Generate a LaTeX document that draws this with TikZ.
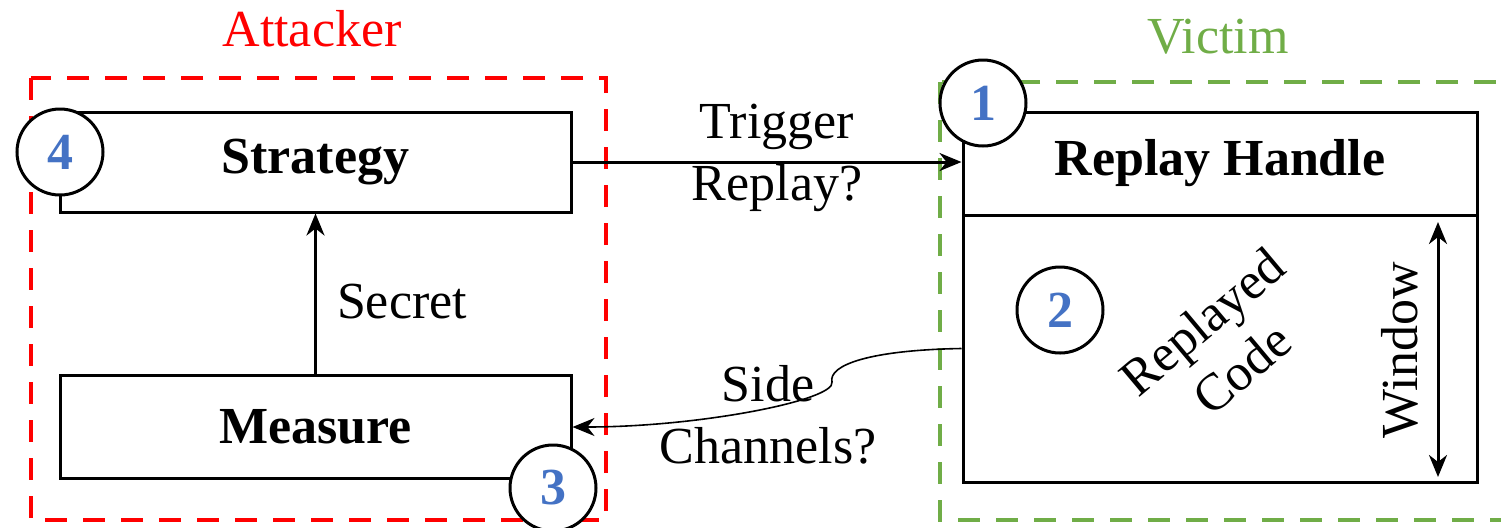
\documentclass[tikz,border=0pt]{standalone}
\usepackage{fontspec}
\setmainfont{Liberation Serif}
\usetikzlibrary{arrows.meta}
\definecolor{atkred}{RGB}{255,0,0}
\definecolor{vicgreen}{RGB}{112,173,71}
\definecolor{numblue}{RGB}{68,114,196}
\begin{document}
\begin{tikzpicture}[x=0.5pt,y=-0.5pt,
every node/.style={font=\fontsize{26}{31}\selectfont},
box/.style={draw,line width=1.5pt,fill=white,minimum width=255.5pt,inner sep=0pt,font=\fontsize{26}{31}\selectfont\bfseries},
num/.style={draw,circle,line width=1.5pt,fill=white,minimum size=43pt,inner sep=0pt,text=numblue,font=\fontsize{26}{31}\selectfont\bfseries},
input/.style={align=center,inner sep=0pt},
frm/.style={line width=2pt,dash pattern=on 11pt off 8pt},
arw/.style={-{Stealth[length=11pt,width=9pt,inset=3.5pt]},line width=1.5pt},
arrw/.style={{Stealth[length=11pt,width=9pt,inset=3.5pt]}-{Stealth[length=11pt,width=9pt,inset=3.5pt]},line width=1.5pt}
]
\useasboundingbox (0,0) rectangle (1501,527);
% groups
\draw[frm,atkred](31,78) rectangle (606,520);
\draw[frm,vicgreen](940,82) rectangle (1540,520);
\node[input,text=atkred,anchor=base]at(312,46)(atk){Attacker};
\node[input,text=vicgreen,anchor=base]at(1218,53)(vic){Victim};
% attacker side
\node[box,minimum height=50pt]at(315.5,162)(strat){Strategy};
\node[box,minimum height=51.5pt]at(315.5,427)(meas){Measure};
% victim side
\node[box,minimum width=257pt,minimum height=51.5pt]at(1220,163.5)(rh){Replay Handle};
\node[box,minimum width=257pt,minimum height=133.5pt]at(1220,348.5)(rc){};
\node[input,rotate=40]at(1222,345)(code){Replayed\\Code};
\node[input,rotate=90]at(1400,350)(win){Window};
\coordinate(wt)at(1438,222);
\coordinate(wb)at(1438,477);
\draw[arrw](wt)--(wb);
% connectors
\draw[arw](strat.east)--(strat.east-|rh.west);
\draw[arw](meas)--(strat);
\draw[arw,line width=0.8pt](rc.west) .. controls (870,350) and (828,365) .. (832,382) .. controls (836,400) and (700,427) .. (meas.east);
\node[input]at(777,158)(trg){Trigger\\Replay?};
\node[input,anchor=base]at(402,318)(sec){Secret};
\node[input]at(768,415)(side){Side\\Channels?};
% steps
\node[num]at(983,103)(n1){1};
\node[num]at(1060,310)(n2){2};
\node[num]at(553,488)(n3){3};
\node[num]at(60,152)(n4){4};
\end{tikzpicture}
\end{document}
